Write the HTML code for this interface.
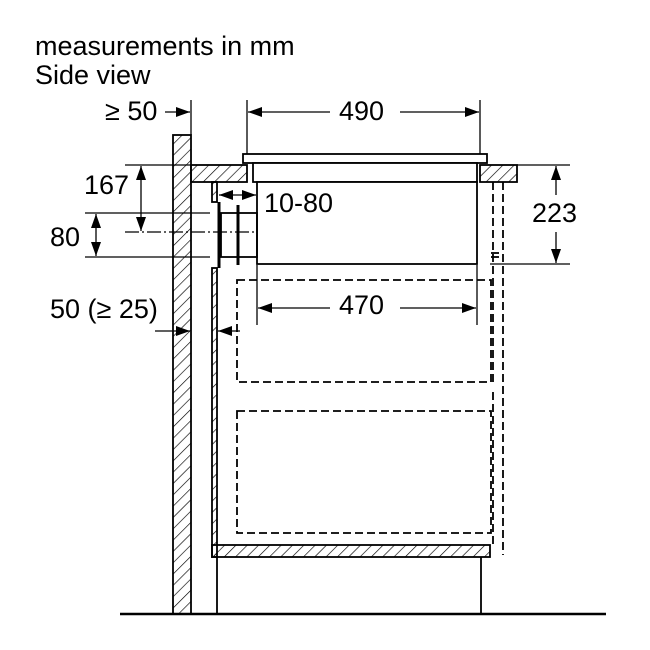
<!DOCTYPE html>
<html><head><meta charset="utf-8"><style>
html,body{margin:0;padding:0;background:#fff}
svg{display:block}
text{font-family:"Liberation Sans",sans-serif;fill:#000}
</style></head><body>
<svg width="650" height="650" viewBox="0 0 650 650" xmlns="http://www.w3.org/2000/svg">
<defs>
<pattern id="h" patternUnits="userSpaceOnUse" width="8" height="8" patternTransform="rotate(45)">
<line x1="0" y1="0" x2="0" y2="8" stroke="#000" stroke-width="1.3"/>
</pattern>
<marker id="a" markerWidth="14" markerHeight="10" refX="14" refY="5" orient="auto" markerUnits="userSpaceOnUse">
<path d="M0,0 L14,5 L0,10 Z" fill="#000"/>
</marker>
</defs>
<text x="35" y="55" font-size="27">measurements in mm</text>
<text x="35" y="84" font-size="27">Side view</text>

<g stroke="#000" fill="none" stroke-width="1.8">
<rect x="173" y="135" width="18" height="479" fill="url(#h)"/>
<line x1="120" y1="614" x2="606" y2="614" stroke-width="2.5"/>
<rect x="191" y="165" width="56" height="17" fill="url(#h)"/>
<rect x="480" y="165" width="37" height="17" fill="url(#h)"/>
<rect x="243" y="154" width="244" height="9" fill="#fff"/>
<rect x="253" y="163" width="224" height="19" fill="#fff"/>
<rect x="257" y="182" width="220" height="82" fill="#fff"/>
<rect x="212" y="268" width="5" height="289" fill="url(#h)"/>
<rect x="212" y="182" width="5" height="20" fill="url(#h)"/>
<line x1="219" y1="202" x2="219" y2="268" stroke-width="3"/>
<line x1="238" y1="205" x2="238" y2="265" stroke-width="3"/>
<rect x="221" y="213" width="17" height="44"/>
<rect x="238" y="213" width="19" height="44"/>
<rect x="212" y="545" width="278" height="12" fill="url(#h)"/>
<line x1="217" y1="557" x2="217" y2="614"/>
<line x1="481" y1="557" x2="481" y2="614"/>
<g stroke-dasharray="8,4">
<rect x="237" y="280" width="254" height="102"/>
<rect x="237" y="411" width="254" height="122"/>
<line x1="493" y1="182" x2="493" y2="382"/>
<line x1="503" y1="182" x2="503" y2="555"/>
<line x1="493" y1="392" x2="493" y2="545"/>
</g>
<line x1="491" y1="253" x2="499" y2="253"/>
<line x1="491" y1="257" x2="499" y2="257"/>

<g stroke-width="1.3">
<line x1="191" y1="100" x2="191" y2="135"/>
<line x1="165" y1="112" x2="190" y2="112" marker-end="url(#a)"/>
<line x1="247" y1="100" x2="247" y2="154"/>
<line x1="480" y1="100" x2="480" y2="154"/>
<line x1="330" y1="112" x2="248" y2="112" marker-end="url(#a)"/>
<line x1="400" y1="112" x2="479" y2="112" marker-end="url(#a)"/>
<line x1="517" y1="165" x2="570" y2="165"/>
<line x1="490" y1="264" x2="570" y2="264"/>
<line x1="556" y1="195" x2="556" y2="166" marker-end="url(#a)"/>
<line x1="556" y1="232" x2="556" y2="263" marker-end="url(#a)"/>
<line x1="125" y1="165" x2="191" y2="165"/>
<line x1="125" y1="232" x2="255" y2="232" stroke-dasharray="14,3,2,3"/>
<line x1="141" y1="198" x2="141" y2="166" marker-end="url(#a)"/>
<line x1="141" y1="198" x2="141" y2="231" marker-end="url(#a)"/>
<line x1="85" y1="213" x2="210" y2="213"/>
<line x1="85" y1="257" x2="210" y2="257"/>
<line x1="96" y1="235" x2="96" y2="214" marker-end="url(#a)"/>
<line x1="96" y1="235" x2="96" y2="256" marker-end="url(#a)"/>
<line x1="238" y1="195" x2="219" y2="195" marker-end="url(#a)"/>
<line x1="238" y1="195" x2="256" y2="195" marker-end="url(#a)"/>
<line x1="257" y1="265" x2="257" y2="325"/>
<line x1="477" y1="265" x2="477" y2="325"/>
<line x1="330" y1="308" x2="258" y2="308" marker-end="url(#a)"/>
<line x1="400" y1="308" x2="476" y2="308" marker-end="url(#a)"/>
<line x1="155" y1="331" x2="190" y2="331" marker-end="url(#a)"/>
<line x1="240" y1="331" x2="218" y2="331" marker-end="url(#a)"/>
</g>
</g>

<text x="105" y="120" font-size="27">≥ 50</text>
<text x="339" y="120" font-size="27">490</text>
<text x="532" y="222" font-size="27">223</text>
<text x="84" y="194" font-size="27">167</text>
<text x="50" y="246" font-size="27">80</text>
<text x="264" y="212" font-size="27">10-80</text>
<text x="339" y="314" font-size="27">470</text>
<text x="50" y="318" font-size="27">50 (≥ 25)</text>
</svg>
</body></html>
